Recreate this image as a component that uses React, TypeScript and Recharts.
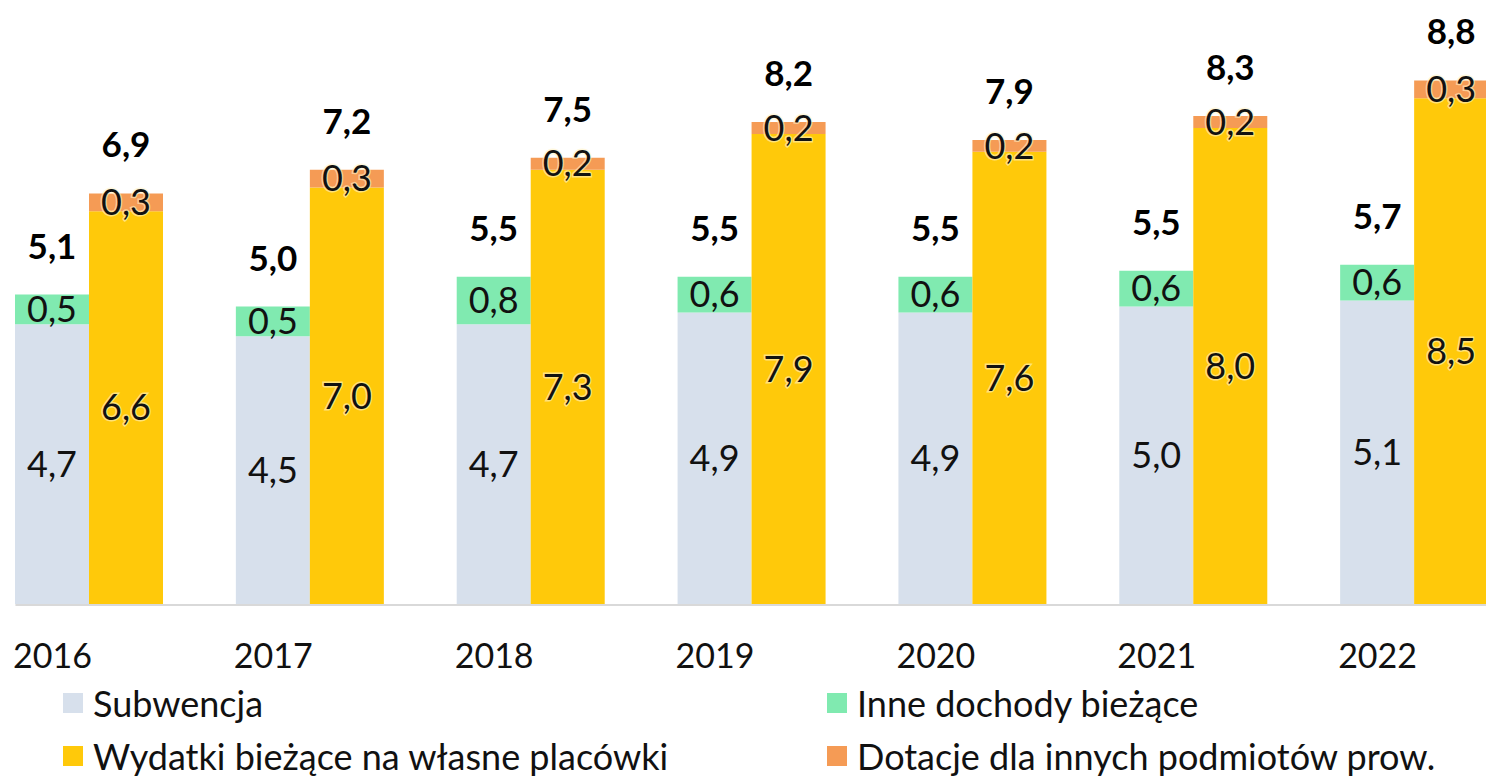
import React from "react";
import { BarChart, Bar, XAxis, YAxis, LabelList, Legend, ReferenceLine } from "recharts";

const years = ["2016", "2017", "2018", "2019", "2020", "2021", "2022"];
const subwencja = [4.7, 4.5, 4.7, 4.9, 4.9, 5.0, 5.1];
const inneDochody = [0.5, 0.5, 0.8, 0.6, 0.6, 0.6, 0.6];
const wydatkiWlasne = [6.6, 7.0, 7.3, 7.9, 7.6, 8.0, 8.5];
const dotacjeInne = [0.3, 0.3, 0.2, 0.2, 0.2, 0.2, 0.3];
const sumaDochody = [5.1, 5.0, 5.5, 5.5, 5.5, 5.5, 5.7];
const sumaWydatki = [6.9, 7.2, 7.5, 8.2, 7.9, 8.3, 8.8];

const series = [
  { key: "subwencja", name: "Subwencja", color: "#D7E0EC", stack: "dochody" },
  { key: "inne", name: "Inne dochody bieżące", color: "#80EAB0", stack: "dochody" },
  { key: "wydatki", name: "Wydatki bieżące na własne placówki", color: "#FFC90A", stack: "wydatki" },
  { key: "dotacje", name: "Dotacje dla innych podmiotów prow.", color: "#F59B55", stack: "wydatki" },
];

const data = years.map((year, i) => ({
  year,
  subwencja: subwencja[i],
  inne: inneDochody[i],
  wydatki: wydatkiWlasne[i],
  dotacje: dotacjeInne[i],
  sumaA: sumaDochody[i],
  sumaB: sumaWydatki[i],
}));

const FONT = "Lato, 'Open Sans', sans-serif";
const CHART_W = 1546;
const BAR_SIZE = 74;
const BAND = CHART_W / years.length;
const SIDE_GAP = (BAND - 2 * BAR_SIZE) / 2;

const fmt = (v: any) => Number(v).toFixed(1).replace(".", ",");

// tick labels sit under the first bar of each pair, like in the source
const YearTick = (props: any) => {
  const { x, y, payload } = props;
  return (
    <text x={x - BAR_SIZE / 2} y={y + 64} textAnchor="middle" fontSize={34} fontFamily={FONT} fill="#111">
      {payload.value}
    </text>
  );
};

const LegendBox = () => (
  <div style={{ position: "relative", width: 1400, height: 100, fontFamily: FONT }}>
    {series.map((s, i) => (
      <div
        key={s.key}
        style={{
          position: "absolute",
          left: (i % 2) * 764,
          top: Math.floor(i / 2) * 53,
          height: 40,
          display: "flex",
          alignItems: "center",
          whiteSpace: "nowrap",
        }}
      >
        <span style={{ display: "inline-block", width: 20, height: 20, background: s.color, marginRight: 10 }} />
        <span style={{ fontSize: 36, color: "#111" }}>{s.name}</span>
      </div>
    ))}
  </div>
);

const segLabel = { fontSize: 36, fontFamily: FONT, fill: "#111" };
const glow = { stroke: "#fff4c8", strokeWidth: 3, strokeOpacity: 0.6, paintOrder: "stroke" } as any;
const totalLabel = { fontSize: 35, fontFamily: FONT, fill: "#000", fontWeight: 700 };

export default function App() {
  return (
    <div style={{ position: "absolute", left: 0, top: 0, width: 1486, height: 779, overflow: "hidden", background: "#fff" }}>
      <div style={{ position: "absolute", left: -21, top: 0 }}>
        <BarChart
          width={CHART_W}
          height={779}
          data={data}
          margin={{ top: 9, right: 0, left: 0, bottom: 115 }}
          barGap={0}
        >
          <XAxis
            dataKey="year"
            axisLine={false}
            tickLine={false}
            tickSize={0}
            tickMargin={0}
            height={60}
            tick={<YearTick />}
            interval={0}
          />
          <YAxis hide domain={[0, 10]} />
          <ReferenceLine
            y={0}
            shape={(p: any) => (
              <line x1={p.x1 + SIDE_GAP} y1={p.y1 + 1} x2={p.x2} y2={p.y2 + 1} stroke="#D9D9D9" strokeWidth={2} />
            )}
          />
          <Legend
            layout="horizontal"
            verticalAlign="middle"
            align="center"
            content={<LegendBox />}
            wrapperStyle={{ left: 84, top: 683, width: 1400, height: 100 }}
          />
          <Bar dataKey="subwencja" name="Subwencja" stackId="dochody" fill="#D7E0EC" barSize={BAR_SIZE} isAnimationActive={false}>
            <LabelList dataKey="subwencja" position="center" formatter={fmt} {...segLabel} />
          </Bar>
          <Bar dataKey="inne" name="Inne dochody bieżące" stackId="dochody" fill="#80EAB0" barSize={BAR_SIZE} isAnimationActive={false}>
            <LabelList dataKey="inne" position="center" formatter={fmt} {...segLabel} />
            <LabelList dataKey="sumaA" position="top" offset={36} formatter={fmt} {...totalLabel} />
          </Bar>
          <Bar dataKey="wydatki" name="Wydatki bieżące na własne placówki" stackId="wydatki" fill="#FFC90A" barSize={BAR_SIZE} isAnimationActive={false}>
            <LabelList dataKey="wydatki" position="center" formatter={fmt} {...segLabel} {...glow} />
          </Bar>
          <Bar dataKey="dotacje" name="Dotacje dla innych podmiotów prow." stackId="wydatki" fill="#F59B55" barSize={BAR_SIZE} isAnimationActive={false}>
            <LabelList dataKey="dotacje" position="center" formatter={fmt} {...segLabel} {...glow} />
            <LabelList dataKey="sumaB" position="top" offset={36} formatter={fmt} {...totalLabel} />
          </Bar>
        </BarChart>
      </div>
    </div>
  );
}
